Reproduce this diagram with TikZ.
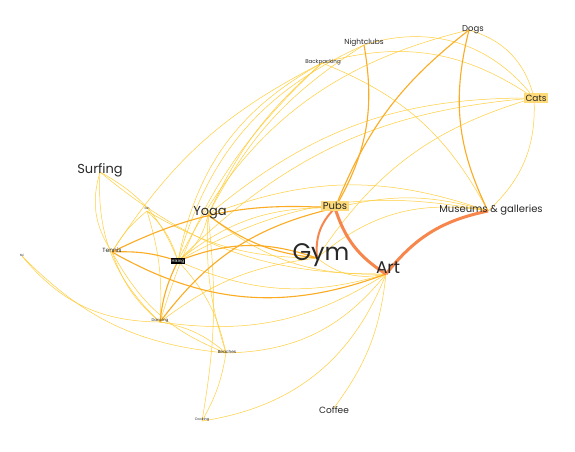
\documentclass[tikz,border=0pt]{standalone}
\usepackage{fontspec}
\setmainfont{Poppins}
\definecolor{ylw}{RGB}{255,206,60}
\definecolor{org}{RGB}{251,172,34}
\definecolor{crl}{RGB}{247,134,76}
\definecolor{txt}{RGB}{40,40,40}
\definecolor{hl}{RGB}{255,218,120}
\tikzset{
  e1/.style={draw=ylw,line width=0.5pt},
  e2/.style={draw=org,line width=1.1pt},
  e3/.style={draw=crl,line width=3pt},
  lbl/.style={inner sep=0.5pt,text=txt},
  hlbox/.style={lbl,fill=hl,inner sep=1.5pt},
}
\begin{document}
\begin{tikzpicture}[x=1pt,y=1pt]
\useasboundingbox (0,0) rectangle (575,-451);
\fill[white] (0,0) rectangle (575,-451);
% node points
\coordinate (dogs) at (469,-30);
\coordinate (night) at (364,-45);
\coordinate (back) at (322,-63);
\coordinate (cats) at (534,-98);
\coordinate (surf) at (100,-172);
\coordinate (gin) at (147,-211);
\coordinate (yoga) at (208,-215);
\coordinate (pubs) at (335,-208);
\coordinate (mus) at (488,-211);
\coordinate (ski) at (22,-256);
\coordinate (tennis) at (112,-252);
\coordinate (hiking) at (178,-261);
\coordinate (gym) at (317,-258);
\coordinate (art) at (386,-274);
\coordinate (dance) at (160,-322);
\coordinate (beach) at (226,-353);
\coordinate (coffee) at (334,-408);
\coordinate (cook) at (202,-421);
% thin edges
\draw[e1] (hiking) to[bend left=25] (back);
\draw[e1] (hiking) to[bend left=25] (night);
\draw[e1] (hiking) to[bend left=25] (dogs);
\draw[e1] (hiking) to[bend left=20] (cats);
\draw[e1] (hiking) to[bend left=20] (mus);
\draw[e1] (hiking) to[bend left=20] (pubs);
\draw[e1] (hiking) to[bend right=20] (surf);
\draw[e1] (hiking) to[bend right=15] (gin);
\draw[e1] (hiking) to[bend right=20] (yoga);
\draw[e1] (hiking) to[bend left=15] (beach);
\draw[e1] (hiking) to[bend right=20] (art);
\draw[e1] (back) to[bend right=15] (dance);
\draw[e1] (back) to[bend right=15] (tennis);
\draw[e1] (back) to[bend right=12] (yoga);
\draw[e1] (night) to[bend right=15] (yoga);
\draw[e1] (dogs) to[bend left=30] (cats);
\draw[e1] (back) to[bend left=25] (cats);
\draw[e1] (night) to[bend left=35] (cats);
\draw[e1] (back) to[bend left=20] (mus);
\draw[e1] (yoga) to[bend left=20] (mus);
\draw[e1] (gym) to[bend left=25] (mus);
\draw[e1] (yoga) to[bend left=20] (cats);
\draw[e1] (gym) to[bend left=20] (cats);
\draw[e1] (cats) to[bend left=25] (mus);
\draw[e1] (pubs) to[bend left=15] (mus);
\draw[e1] (surf) to[bend right=25] (tennis);
\draw[e1] (surf) to[bend right=25] (dance);
\draw[e1] (surf) to[bend right=20] (art);
\draw[e1] (gin) to[bend right=10] (tennis);
\draw[e1] (gin) to[bend left=10] (dance);
\draw[e1] (gin) to[bend right=15] (gym);
\draw[e1] (ski) to[bend right=25] (dance);
\draw[e1] (ski) to[bend right=20] (beach);
\draw[e1] (tennis) to[bend right=15] (dance);
\draw[e1] (tennis) to[bend right=20] (beach);
\draw[e1] (dance) to[bend left=15] (beach);
\draw[e1] (dance) to[bend right=20] (art);
\draw[e1] (dance) to[bend left=15] (gym);
\draw[e1] (beach) to[bend right=25] (art);
\draw[e1] (beach) to[bend left=10] (cook);
\draw[e1] (beach) to[bend left=10] (yoga);
\draw[e1] (cook) to[bend right=30] (art);
\draw[e1] (cook) to[bend right=8] (yoga);
\draw[e1] (coffee) to[bend right=15] (art);
\draw[e1] (yoga) to[bend right=20] (art);
\draw[e1] (gym) to[bend right=25] (art);
% medium edges
\draw[e2] (dogs) to[bend right=20] (mus);
\draw[e2] (dogs) to[bend right=15] (pubs);
\draw[e2] (night) to[bend left=20] (pubs);
\draw[e2] (tennis) to[bend right=25] (art);
\draw[e2] (tennis) to[bend left=15] (pubs);
\draw[e2] (dance) to[bend left=20] (pubs);
\draw[e2] (hiking) to[bend left=20] (gym);
\draw[e2] (yoga) to[bend right=15] (gym);
\draw[e2] (hiking) to[bend right=10] (dance);
\draw[e2] (tennis) to[bend left=10] (hiking);
% thick edges
\draw[crl,line width=2pt] (pubs) to[bend right=25] (gym);
\draw[e3] (art) to[bend left=20] (pubs);
\draw[e3] (art) to[bend left=20] (mus);
% labels
\node[lbl,font=\fontsize{8.5}{9}\selectfont] (ldogs) at (473,-30) {Dogs};
\node[lbl,font=\fontsize{7.4}{8}\selectfont] (lnight) at (364,-43) {Nightclubs};
\node[lbl,font=\fontsize{5.5}{6}\selectfont] (lback) at (323,-62) {Backpacking};
\node[hlbox,font=\fontsize{9}{10}\selectfont] (lcats) at (536,-98) {Cats};
\node[lbl,font=\fontsize{13}{14}\selectfont] (lsurf) at (100,-170) {Surfing};
\node[lbl,font=\fontsize{3}{3}\selectfont] (lgin) at (147,-208) {Gin};
\node[lbl,font=\fontsize{13}{14}\selectfont] (lyoga) at (210,-213) {Yoga};
\node[hlbox,font=\fontsize{10}{11}\selectfont] (lpubs) at (335,-206) {Pubs};
\node[lbl,font=\fontsize{10}{11}\selectfont] (lmus) at (491,-210) {Museums \& galleries};
\node[lbl,font=\fontsize{3}{3}\selectfont] (lski) at (22,-255) {Ski};
\node[lbl,font=\fontsize{6}{7}\selectfont] (ltennis) at (112,-250) {Tennis};
\node[fill=black,text=white,inner sep=0.8pt,font=\fontsize{4.2}{5}\selectfont] (lhiking) at (178,-261) {Hiking};
\node[lbl,font=\fontsize{24}{26}\selectfont] (lgym) at (321,-255) {Gym};
\node[lbl,font=\fontsize{17}{18}\selectfont] (lart) at (388,-268) {Art};
\node[lbl,font=\fontsize{4}{4}\selectfont] (ldance) at (160,-321) {Dancing};
\node[lbl,font=\fontsize{4.3}{5}\selectfont] (lbeach) at (227,-352) {Beaches};
\node[lbl,font=\fontsize{9}{10}\selectfont] (lcoffee) at (334,-410) {Coffee};
\node[lbl,font=\fontsize{3.5}{4}\selectfont] (lcook) at (202,-420) {Cooking};
\end{tikzpicture}
\end{document}
